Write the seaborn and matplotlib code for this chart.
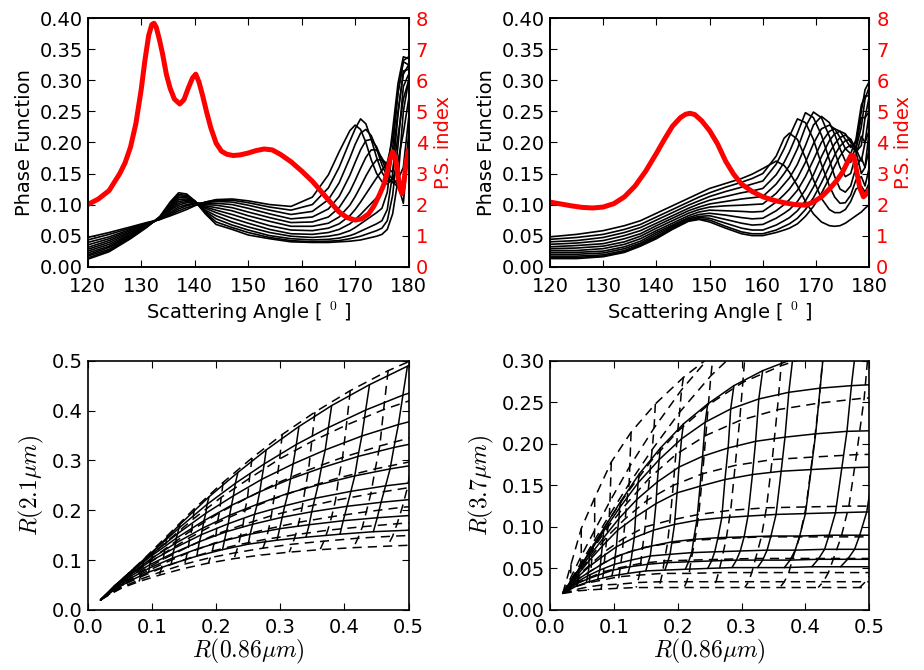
import numpy as np
import pandas as pd
import matplotlib
matplotlib.use("Agg")
import matplotlib.pyplot as plt
import seaborn as sns
from matplotlib.ticker import FormatStrFormatter

# ---------------- data: top-left panel ----------------
angles_left = [120, 124, 128, 131, 133.5, 135.5, 137, 138.5, 140, 142, 144, 147, 150, 154, 158,
               162, 165, 167, 169, 170, 171, 172, 173, 174, 175, 176, 177, 178, 179, 180]
# rows = angles, columns = 12 phase-function curves
pf_left = [
    [0.047, 0.043, 0.039, 0.035, 0.031, 0.028, 0.025, 0.022, 0.019, 0.017, 0.014, 0.012],
    [0.055, 0.052, 0.048, 0.045, 0.042, 0.039, 0.036, 0.033, 0.031, 0.028, 0.026, 0.024],
    [0.064, 0.062, 0.060, 0.058, 0.056, 0.054, 0.052, 0.051, 0.049, 0.048, 0.046, 0.045],
    [0.071, 0.070, 0.069, 0.068, 0.067, 0.066, 0.066, 0.065, 0.065, 0.064, 0.064, 0.063],
    [0.076, 0.076, 0.077, 0.077, 0.077, 0.078, 0.078, 0.079, 0.079, 0.080, 0.080, 0.081],
    [0.082, 0.084, 0.086, 0.088, 0.091, 0.093, 0.095, 0.097, 0.099, 0.101, 0.103, 0.105],
    [0.087, 0.090, 0.093, 0.096, 0.099, 0.102, 0.105, 0.108, 0.111, 0.114, 0.116, 0.119],
    [0.092, 0.095, 0.098, 0.100, 0.103, 0.105, 0.107, 0.109, 0.111, 0.113, 0.115, 0.117],
    [0.098, 0.099, 0.101, 0.102, 0.103, 0.104, 0.104, 0.105, 0.105, 0.106, 0.106, 0.106],
    [0.104, 0.104, 0.103, 0.102, 0.100, 0.098, 0.096, 0.094, 0.091, 0.089, 0.087, 0.085],
    [0.108, 0.107, 0.105, 0.102, 0.099, 0.095, 0.091, 0.087, 0.082, 0.077, 0.072, 0.068],
    [0.109, 0.107, 0.104, 0.100, 0.095, 0.090, 0.084, 0.078, 0.072, 0.067, 0.063, 0.060],
    [0.106, 0.103, 0.099, 0.094, 0.088, 0.082, 0.076, 0.070, 0.064, 0.059, 0.055, 0.051],
    [0.100, 0.096, 0.091, 0.085, 0.079, 0.073, 0.066, 0.060, 0.055, 0.050, 0.047, 0.045],
    [0.097, 0.091, 0.084, 0.077, 0.071, 0.065, 0.059, 0.053, 0.049, 0.045, 0.042, 0.040],
    [0.112, 0.100, 0.089, 0.080, 0.072, 0.065, 0.058, 0.052, 0.047, 0.043, 0.040, 0.039],
    [0.148, 0.127, 0.108, 0.093, 0.080, 0.070, 0.062, 0.055, 0.049, 0.044, 0.041, 0.039],
    [0.185, 0.160, 0.135, 0.113, 0.095, 0.080, 0.069, 0.060, 0.052, 0.046, 0.042, 0.040],
    [0.219, 0.202, 0.175, 0.147, 0.121, 0.099, 0.082, 0.069, 0.058, 0.050, 0.045, 0.041],
    [0.228, 0.222, 0.197, 0.168, 0.139, 0.113, 0.092, 0.076, 0.063, 0.053, 0.047, 0.042],
    [0.221, 0.238, 0.215, 0.188, 0.158, 0.129, 0.104, 0.084, 0.069, 0.057, 0.049, 0.043],
    [0.200, 0.230, 0.221, 0.203, 0.176, 0.146, 0.117, 0.093, 0.075, 0.061, 0.052, 0.045],
    [0.172, 0.205, 0.211, 0.205, 0.188, 0.161, 0.130, 0.102, 0.081, 0.065, 0.055, 0.047],
    [0.150, 0.176, 0.190, 0.193, 0.188, 0.172, 0.143, 0.111, 0.087, 0.069, 0.058, 0.049],
    [0.137, 0.152, 0.164, 0.172, 0.175, 0.172, 0.155, 0.122, 0.094, 0.074, 0.062, 0.052],
    [0.133, 0.138, 0.145, 0.152, 0.160, 0.166, 0.168, 0.150, 0.120, 0.092, 0.074, 0.060],
    [0.142, 0.137, 0.135, 0.140, 0.152, 0.175, 0.205, 0.220, 0.190, 0.150, 0.115, 0.085],
    [0.132, 0.128, 0.140, 0.170, 0.210, 0.250, 0.280, 0.295, 0.280, 0.245, 0.195, 0.140],
    [0.102, 0.115, 0.160, 0.215, 0.270, 0.310, 0.332, 0.338, 0.330, 0.315, 0.290, 0.250],
    [0.195, 0.215, 0.240, 0.270, 0.300, 0.325, 0.338, 0.335, 0.325, 0.318, 0.310, 0.300],
]
ps_left_angle = [120, 122, 124, 126, 127, 128, 129, 130, 130.7, 131.4, 132, 132.4, 132.8, 133.4,
                 134, 134.7, 135.4, 136.2, 137.2, 138, 138.8, 139.6, 140.2, 140.8, 141.5, 142.2,
                 143, 144, 145, 146, 147.2, 148.5, 150, 151.5, 153, 154.5, 156, 158, 160, 162,
                 164, 165.5, 167, 168.5, 170, 171.2, 172.5, 173.5, 174.5, 175.3, 176, 176.5,
                 177, 177.5, 178, 178.4, 178.75, 179.1, 179.5, 180]
ps_left = [2.00, 2.18, 2.45, 3.00, 3.35, 3.85, 4.60, 5.70, 6.65, 7.45, 7.80, 7.84, 7.72, 7.32,
           6.85, 6.20, 5.75, 5.40, 5.24, 5.38, 5.75, 6.08, 6.20, 5.95, 5.50, 5.00,
           4.48, 3.98, 3.72, 3.62, 3.58, 3.60, 3.66, 3.74, 3.79, 3.76, 3.62, 3.38, 3.08, 2.75,
           2.35, 2.05, 1.76, 1.58, 1.50, 1.54, 1.70, 1.95, 2.30, 2.62, 3.05, 3.45,
           3.70, 3.50, 2.95, 2.50, 2.35, 2.70, 3.35, 3.80]

# ---------------- data: top-right panel ----------------
angles_right = [120, 125, 130, 134, 137, 140, 143, 146, 148, 150, 153, 156, 158, 160, 162.5,
                164, 165, 166.5, 168, 169.5, 171, 172.5, 173.5, 174.5, 175.5, 176.5, 177.5,
                178.5, 179.2, 180]
pf_right = [
    [0.048, 0.044, 0.040, 0.036, 0.032, 0.029, 0.026, 0.023, 0.020, 0.017, 0.015, 0.013],
    [0.052, 0.047, 0.042, 0.038, 0.034, 0.030, 0.026, 0.023, 0.020, 0.017, 0.015, 0.013],
    [0.058, 0.052, 0.047, 0.042, 0.037, 0.033, 0.029, 0.025, 0.022, 0.019, 0.017, 0.016],
    [0.066, 0.060, 0.055, 0.050, 0.045, 0.040, 0.036, 0.032, 0.029, 0.026, 0.024, 0.023],
    [0.074, 0.068, 0.063, 0.058, 0.053, 0.049, 0.045, 0.041, 0.038, 0.036, 0.034, 0.033],
    [0.086, 0.080, 0.075, 0.070, 0.066, 0.062, 0.058, 0.055, 0.052, 0.049, 0.047, 0.045],
    [0.098, 0.092, 0.087, 0.082, 0.078, 0.074, 0.070, 0.067, 0.065, 0.063, 0.061, 0.060],
    [0.110, 0.104, 0.099, 0.094, 0.090, 0.086, 0.082, 0.079, 0.077, 0.075, 0.074, 0.073],
    [0.118, 0.112, 0.106, 0.101, 0.096, 0.092, 0.088, 0.084, 0.081, 0.079, 0.077, 0.076],
    [0.126, 0.119, 0.113, 0.107, 0.101, 0.096, 0.091, 0.086, 0.082, 0.078, 0.075, 0.072],
    [0.134, 0.128, 0.121, 0.113, 0.105, 0.098, 0.090, 0.083, 0.076, 0.070, 0.065, 0.062],
    [0.142, 0.136, 0.128, 0.119, 0.109, 0.099, 0.089, 0.079, 0.070, 0.062, 0.056, 0.053],
    [0.149, 0.142, 0.133, 0.122, 0.111, 0.100, 0.088, 0.077, 0.067, 0.059, 0.053, 0.050],
    [0.158, 0.150, 0.138, 0.126, 0.113, 0.101, 0.089, 0.078, 0.068, 0.059, 0.053, 0.050],
    [0.170, 0.178, 0.165, 0.148, 0.133, 0.118, 0.104, 0.090, 0.078, 0.067, 0.059, 0.055],
    [0.163, 0.207, 0.190, 0.168, 0.150, 0.133, 0.116, 0.100, 0.086, 0.074, 0.065, 0.059],
    [0.152, 0.215, 0.210, 0.185, 0.163, 0.143, 0.125, 0.108, 0.092, 0.079, 0.069, 0.062],
    [0.130, 0.205, 0.238, 0.215, 0.190, 0.165, 0.143, 0.123, 0.105, 0.090, 0.078, 0.069],
    [0.105, 0.175, 0.232, 0.248, 0.225, 0.195, 0.168, 0.145, 0.124, 0.106, 0.092, 0.081],
    [0.085, 0.140, 0.205, 0.240, 0.249, 0.228, 0.198, 0.172, 0.148, 0.128, 0.111, 0.097],
    [0.072, 0.110, 0.165, 0.212, 0.240, 0.242, 0.222, 0.200, 0.177, 0.155, 0.135, 0.118],
    [0.066, 0.092, 0.130, 0.172, 0.210, 0.232, 0.228, 0.218, 0.203, 0.183, 0.162, 0.143],
    [0.065, 0.087, 0.112, 0.145, 0.185, 0.213, 0.222, 0.222, 0.214, 0.198, 0.180, 0.162],
    [0.066, 0.087, 0.102, 0.125, 0.160, 0.190, 0.208, 0.218, 0.218, 0.208, 0.194, 0.178],
    [0.070, 0.092, 0.103, 0.120, 0.145, 0.170, 0.190, 0.205, 0.214, 0.212, 0.203, 0.190],
    [0.076, 0.105, 0.115, 0.130, 0.150, 0.168, 0.182, 0.192, 0.200, 0.205, 0.205, 0.196],
    [0.082, 0.125, 0.140, 0.160, 0.180, 0.195, 0.205, 0.200, 0.190, 0.185, 0.190, 0.185],
    [0.088, 0.130, 0.145, 0.175, 0.210, 0.240, 0.260, 0.250, 0.225, 0.195, 0.170, 0.150],
    [0.094, 0.120, 0.130, 0.160, 0.200, 0.240, 0.275, 0.285, 0.270, 0.240, 0.200, 0.160],
    [0.100, 0.135, 0.160, 0.190, 0.220, 0.250, 0.275, 0.298, 0.290, 0.275, 0.250, 0.220],
]
ps_right_angle = [120, 122, 124, 126, 128, 130, 132, 134, 136, 138, 140, 141.5, 143, 144.5,
                  145.5, 146.3, 147.2, 148.5, 150, 151.5, 153, 154.5, 156, 158, 160, 162, 164,
                  166, 168, 169.5, 171, 172.5, 174, 175, 176, 176.6, 177.1, 177.6, 178.2,
                  178.9, 179.5, 180]
ps_right = [2.08, 2.02, 1.96, 1.91, 1.89, 1.92, 2.03, 2.25, 2.60, 3.08, 3.65, 4.10, 4.52, 4.80,
            4.91, 4.94, 4.90, 4.70, 4.38, 3.95, 3.40, 2.98, 2.66, 2.42, 2.25, 2.14, 2.06,
            2.00, 1.98, 2.08, 2.25, 2.50, 2.80, 3.05, 3.40, 3.60, 3.55, 3.10, 2.55,
            2.25, 2.35, 2.50]

# ---------------- data: bottom-left LUT (R0.86 vs R2.1) ----------------
# rows = effective radius, columns = optical thickness
bl_solid_x = [
    [0.020, 0.042, 0.071, 0.104, 0.144, 0.189, 0.234, 0.278, 0.329, 0.380, 0.439, 0.498, 0.559],
    [0.020, 0.042, 0.070, 0.103, 0.142, 0.186, 0.230, 0.275, 0.325, 0.375, 0.433, 0.491, 0.552],
    [0.020, 0.042, 0.069, 0.102, 0.140, 0.184, 0.227, 0.271, 0.320, 0.370, 0.427, 0.484, 0.544],
    [0.020, 0.042, 0.068, 0.101, 0.138, 0.181, 0.224, 0.268, 0.316, 0.364, 0.421, 0.477, 0.537],
    [0.020, 0.041, 0.068, 0.100, 0.137, 0.179, 0.221, 0.264, 0.312, 0.359, 0.416, 0.471, 0.529],
    [0.020, 0.041, 0.067, 0.098, 0.135, 0.177, 0.219, 0.260, 0.307, 0.354, 0.410, 0.464, 0.522],
    [0.020, 0.041, 0.066, 0.097, 0.133, 0.174, 0.216, 0.257, 0.303, 0.349, 0.404, 0.457, 0.514],
    [0.020, 0.040, 0.066, 0.096, 0.132, 0.172, 0.213, 0.253, 0.299, 0.345, 0.398, 0.451, 0.507],
    [0.020, 0.040, 0.065, 0.095, 0.130, 0.170, 0.210, 0.250, 0.295, 0.340, 0.393, 0.445, 0.500],
]
bl_solid_y = [
    [0.020, 0.047, 0.081, 0.120, 0.172, 0.227, 0.276, 0.321, 0.368, 0.410, 0.452, 0.489, 0.519],
    [0.020, 0.048, 0.081, 0.119, 0.164, 0.212, 0.254, 0.293, 0.332, 0.366, 0.401, 0.431, 0.456],
    [0.020, 0.048, 0.079, 0.114, 0.153, 0.194, 0.229, 0.262, 0.293, 0.321, 0.349, 0.372, 0.392],
    [0.020, 0.049, 0.077, 0.110, 0.144, 0.179, 0.210, 0.237, 0.263, 0.285, 0.308, 0.326, 0.342],
    [0.020, 0.046, 0.074, 0.104, 0.134, 0.164, 0.190, 0.212, 0.234, 0.251, 0.269, 0.283, 0.295],
    [0.020, 0.046, 0.071, 0.098, 0.124, 0.151, 0.173, 0.192, 0.209, 0.224, 0.238, 0.249, 0.258],
    [0.020, 0.044, 0.067, 0.091, 0.114, 0.137, 0.157, 0.172, 0.186, 0.197, 0.208, 0.216, 0.223],
    [0.020, 0.041, 0.063, 0.084, 0.104, 0.123, 0.139, 0.152, 0.163, 0.171, 0.179, 0.185, 0.190],
    [0.020, 0.039, 0.058, 0.076, 0.092, 0.108, 0.121, 0.132, 0.140, 0.146, 0.152, 0.157, 0.160],
]
bl_dash_x = [
    [0.020, 0.035, 0.058, 0.088, 0.124, 0.166, 0.211, 0.256, 0.303, 0.354, 0.409, 0.468, 0.528, 0.590],
    [0.020, 0.035, 0.057, 0.087, 0.122, 0.164, 0.208, 0.252, 0.299, 0.349, 0.403, 0.461, 0.520, 0.581],
    [0.020, 0.035, 0.057, 0.086, 0.121, 0.162, 0.205, 0.249, 0.294, 0.344, 0.397, 0.455, 0.513, 0.573],
    [0.020, 0.034, 0.056, 0.085, 0.119, 0.159, 0.202, 0.245, 0.290, 0.339, 0.391, 0.448, 0.505, 0.564],
    [0.020, 0.034, 0.056, 0.084, 0.118, 0.157, 0.200, 0.242, 0.286, 0.334, 0.386, 0.441, 0.498, 0.556],
    [0.020, 0.034, 0.055, 0.083, 0.116, 0.155, 0.197, 0.238, 0.282, 0.329, 0.380, 0.434, 0.490, 0.547],
    [0.020, 0.034, 0.055, 0.082, 0.115, 0.153, 0.194, 0.235, 0.278, 0.324, 0.374, 0.428, 0.482, 0.539],
    [0.020, 0.033, 0.054, 0.081, 0.113, 0.151, 0.191, 0.231, 0.273, 0.319, 0.368, 0.421, 0.475, 0.530],
    [0.020, 0.033, 0.053, 0.080, 0.112, 0.149, 0.188, 0.228, 0.269, 0.314, 0.362, 0.414, 0.467, 0.522],
]
bl_dash_y = [
    [0.020, 0.038, 0.067, 0.103, 0.149, 0.203, 0.256, 0.305, 0.352, 0.397, 0.440, 0.480, 0.514, 0.546],
    [0.020, 0.039, 0.065, 0.098, 0.136, 0.182, 0.226, 0.264, 0.303, 0.338, 0.371, 0.402, 0.428, 0.451],
    [0.020, 0.038, 0.062, 0.090, 0.123, 0.160, 0.195, 0.225, 0.254, 0.281, 0.306, 0.329, 0.349, 0.366],
    [0.020, 0.036, 0.060, 0.085, 0.114, 0.145, 0.175, 0.200, 0.223, 0.245, 0.265, 0.283, 0.298, 0.311],
    [0.020, 0.035, 0.056, 0.078, 0.102, 0.127, 0.152, 0.171, 0.189, 0.205, 0.220, 0.233, 0.245, 0.253],
    [0.020, 0.034, 0.053, 0.072, 0.092, 0.114, 0.134, 0.149, 0.163, 0.176, 0.187, 0.197, 0.206, 0.212],
    [0.020, 0.032, 0.050, 0.066, 0.084, 0.102, 0.118, 0.131, 0.142, 0.151, 0.160, 0.167, 0.173, 0.178],
    [0.020, 0.031, 0.046, 0.061, 0.076, 0.092, 0.105, 0.115, 0.124, 0.132, 0.138, 0.144, 0.148, 0.151],
    [0.020, 0.030, 0.044, 0.057, 0.070, 0.083, 0.094, 0.103, 0.110, 0.116, 0.121, 0.125, 0.128, 0.131],
]

# ---------------- data: bottom-right LUT (R0.86 vs R3.7) ----------------
br_solid_x = [
    [0.020, 0.032, 0.046, 0.064, 0.085, 0.111, 0.140, 0.173, 0.209, 0.247, 0.288, 0.333, 0.380, 0.429, 0.480, 0.533, 0.586],
    [0.020, 0.032, 0.046, 0.063, 0.084, 0.109, 0.138, 0.171, 0.206, 0.243, 0.283, 0.327, 0.374, 0.423, 0.472, 0.525, 0.577],
    [0.020, 0.031, 0.045, 0.062, 0.083, 0.108, 0.136, 0.168, 0.202, 0.239, 0.279, 0.322, 0.368, 0.416, 0.465, 0.516, 0.567],
    [0.020, 0.031, 0.045, 0.061, 0.082, 0.106, 0.134, 0.166, 0.199, 0.235, 0.274, 0.317, 0.362, 0.409, 0.457, 0.507, 0.558],
    [0.020, 0.031, 0.044, 0.061, 0.080, 0.104, 0.132, 0.162, 0.195, 0.230, 0.269, 0.310, 0.354, 0.400, 0.447, 0.496, 0.546],
    [0.020, 0.031, 0.044, 0.060, 0.079, 0.102, 0.129, 0.159, 0.191, 0.225, 0.263, 0.304, 0.346, 0.391, 0.437, 0.485, 0.534],
    [0.020, 0.031, 0.043, 0.059, 0.078, 0.101, 0.127, 0.157, 0.188, 0.222, 0.258, 0.298, 0.340, 0.384, 0.430, 0.477, 0.524],
    [0.020, 0.030, 0.043, 0.058, 0.076, 0.099, 0.125, 0.153, 0.184, 0.217, 0.253, 0.292, 0.333, 0.376, 0.420, 0.466, 0.512],
    [0.020, 0.030, 0.042, 0.057, 0.075, 0.097, 0.122, 0.150, 0.180, 0.212, 0.247, 0.285, 0.325, 0.367, 0.410, 0.455, 0.500],
]
br_solid_y = [
    [0.020, 0.034, 0.050, 0.073, 0.099, 0.131, 0.164, 0.195, 0.224, 0.248, 0.270, 0.288, 0.302, 0.314, 0.322, 0.328, 0.332],
    [0.020, 0.034, 0.050, 0.070, 0.095, 0.123, 0.153, 0.181, 0.206, 0.226, 0.242, 0.254, 0.262, 0.267, 0.270, 0.272, 0.273],
    [0.020, 0.032, 0.047, 0.065, 0.086, 0.110, 0.133, 0.154, 0.172, 0.185, 0.195, 0.203, 0.208, 0.212, 0.215, 0.216, 0.217],
    [0.020, 0.031, 0.044, 0.059, 0.077, 0.096, 0.112, 0.128, 0.141, 0.149, 0.157, 0.163, 0.167, 0.169, 0.171, 0.172, 0.173],
    [0.020, 0.029, 0.040, 0.052, 0.063, 0.076, 0.087, 0.096, 0.103, 0.108, 0.111, 0.113, 0.115, 0.116, 0.117, 0.118, 0.118],
    [0.020, 0.028, 0.037, 0.045, 0.054, 0.064, 0.071, 0.077, 0.082, 0.085, 0.087, 0.088, 0.089, 0.089, 0.090, 0.090, 0.090],
    [0.020, 0.027, 0.034, 0.041, 0.048, 0.055, 0.060, 0.065, 0.067, 0.069, 0.070, 0.071, 0.072, 0.072, 0.073, 0.073, 0.073],
    [0.020, 0.025, 0.032, 0.037, 0.042, 0.048, 0.052, 0.055, 0.057, 0.058, 0.059, 0.060, 0.060, 0.060, 0.061, 0.061, 0.061],
    [0.020, 0.024, 0.029, 0.033, 0.037, 0.041, 0.044, 0.047, 0.048, 0.049, 0.050, 0.051, 0.051, 0.051, 0.052, 0.052, 0.052],
]
br_dash_x = [
    [0.020, 0.033, 0.049, 0.070, 0.096, 0.127, 0.165, 0.209, 0.259, 0.316, 0.379, 0.448, 0.524, 0.606, 0.688],
    [0.020, 0.032, 0.049, 0.070, 0.094, 0.125, 0.163, 0.206, 0.256, 0.311, 0.373, 0.442, 0.516, 0.597, 0.677],
    [0.020, 0.032, 0.048, 0.069, 0.093, 0.124, 0.160, 0.203, 0.252, 0.307, 0.368, 0.435, 0.508, 0.587, 0.667],
    [0.020, 0.032, 0.048, 0.068, 0.092, 0.122, 0.158, 0.200, 0.248, 0.302, 0.362, 0.428, 0.500, 0.578, 0.656],
    [0.020, 0.032, 0.047, 0.067, 0.091, 0.120, 0.156, 0.197, 0.244, 0.297, 0.356, 0.421, 0.492, 0.569, 0.645],
    [0.020, 0.032, 0.046, 0.066, 0.089, 0.118, 0.152, 0.193, 0.239, 0.290, 0.348, 0.411, 0.480, 0.555, 0.630],
    [0.020, 0.031, 0.046, 0.065, 0.087, 0.115, 0.149, 0.188, 0.233, 0.283, 0.339, 0.401, 0.468, 0.541, 0.614],
    [0.020, 0.031, 0.045, 0.064, 0.085, 0.113, 0.145, 0.184, 0.227, 0.276, 0.331, 0.391, 0.456, 0.527, 0.598],
    [0.020, 0.031, 0.044, 0.062, 0.084, 0.110, 0.142, 0.179, 0.221, 0.269, 0.322, 0.380, 0.444, 0.513, 0.582],
    [0.020, 0.030, 0.044, 0.062, 0.082, 0.108, 0.140, 0.176, 0.218, 0.264, 0.316, 0.374, 0.436, 0.504, 0.571],
    [0.020, 0.030, 0.043, 0.061, 0.081, 0.107, 0.137, 0.173, 0.214, 0.260, 0.311, 0.367, 0.428, 0.494, 0.561],
    [0.020, 0.030, 0.043, 0.060, 0.080, 0.105, 0.135, 0.170, 0.210, 0.255, 0.305, 0.360, 0.420, 0.485, 0.550],
]
br_dash_y = [
    [0.020, 0.055, 0.098, 0.135, 0.178, 0.214, 0.248, 0.280, 0.310, 0.335, 0.355, 0.370, 0.380, 0.390, 0.395],
    [0.020, 0.038, 0.065, 0.096, 0.131, 0.173, 0.219, 0.265, 0.310, 0.353, 0.394, 0.431, 0.459, 0.479, 0.492],
    [0.020, 0.035, 0.056, 0.083, 0.114, 0.152, 0.193, 0.238, 0.282, 0.322, 0.356, 0.386, 0.410, 0.427, 0.439],
    [0.020, 0.034, 0.054, 0.078, 0.108, 0.142, 0.179, 0.215, 0.247, 0.274, 0.294, 0.311, 0.325, 0.332, 0.337],
    [0.020, 0.034, 0.051, 0.073, 0.100, 0.128, 0.159, 0.187, 0.210, 0.228, 0.241, 0.249, 0.255, 0.257, 0.259],
    [0.020, 0.032, 0.047, 0.066, 0.088, 0.110, 0.132, 0.150, 0.164, 0.174, 0.181, 0.184, 0.187, 0.188, 0.188],
    [0.020, 0.030, 0.043, 0.056, 0.071, 0.086, 0.100, 0.108, 0.115, 0.120, 0.123, 0.124, 0.125, 0.125, 0.125],
    [0.020, 0.028, 0.038, 0.047, 0.057, 0.067, 0.075, 0.080, 0.084, 0.086, 0.088, 0.088, 0.088, 0.088, 0.088],
    [0.020, 0.026, 0.033, 0.039, 0.046, 0.051, 0.056, 0.059, 0.060, 0.061, 0.062, 0.062, 0.062, 0.062, 0.062],
    [0.020, 0.024, 0.029, 0.033, 0.036, 0.040, 0.042, 0.044, 0.044, 0.045, 0.045, 0.045, 0.045, 0.045, 0.045],
    [0.020, 0.022, 0.025, 0.028, 0.030, 0.031, 0.033, 0.034, 0.034, 0.034, 0.034, 0.034, 0.034, 0.034, 0.034],
    [0.020, 0.021, 0.023, 0.024, 0.025, 0.026, 0.027, 0.027, 0.027, 0.027, 0.027, 0.027, 0.027, 0.027, 0.027],
]

pf_yticks = [0.00, 0.05, 0.10, 0.15, 0.20, 0.25, 0.30, 0.35, 0.40]
ps_yticks = [0, 1, 2, 3, 4, 5, 6, 7, 8]
angle_ticks = [120, 130, 140, 150, 160, 170, 180]
refl_ticks = [0.0, 0.1, 0.2, 0.3, 0.4, 0.5]
r37_ticks = [0.00, 0.05, 0.10, 0.15, 0.20, 0.25, 0.30]

# ---------------- style ----------------
sns.set_theme(style="ticks")
plt.rcParams.update({
    "font.family": ["DejaVu Sans"],
    "font.size": 14, "axes.labelsize": 14,
    "xtick.labelsize": 14, "ytick.labelsize": 14,
    "xtick.direction": "in", "ytick.direction": "in",
    "xtick.top": True, "ytick.right": True,
    "xtick.major.size": 5, "ytick.major.size": 5,
    "xtick.major.width": 0.8, "ytick.major.width": 0.8,
    "xtick.major.pad": 6, "ytick.major.pad": 3.5,
    "axes.linewidth": 1.2, "axes.edgecolor": "black",
    "xtick.color": "black", "ytick.color": "black",
    "axes.labelcolor": "black", "text.color": "black",
    "mathtext.fontset": "cm",
})

fig = plt.figure(figsize=(9.24, 6.70), dpi=100)
ax_tl = fig.add_axes([0.0949, 0.602, 0.3474, 0.3707])
ax_tr = fig.add_axes([0.5952, 0.602, 0.3456, 0.3707])
ax_bl = fig.add_axes([0.0949, 0.0896, 0.3474, 0.372])
ax_br = fig.add_axes([0.5952, 0.0896, 0.3456, 0.372])


def draw_phase(ax, angles, table, ps_angle, ps_vals):
    arr = np.array(table)
    rows = []
    for k in range(arr.shape[1]):
        for a, v in zip(angles, arr[:, k]):
            rows.append((a, v, k))
    df = pd.DataFrame(rows, columns=["angle", "pf", "curve"])
    sns.lineplot(data=df, x="angle", y="pf", units="curve", estimator=None,
                 sort=False, color="black", lw=1.2, ax=ax, legend=False,
                 solid_joinstyle="round")
    ax.set_xlim(120, 180)
    ax.set_ylim(0, 0.4)
    ax.set_xticks(angle_ticks)
    ax.set_yticks(pf_yticks)
    ax.yaxis.set_major_formatter(FormatStrFormatter("%.2f"))
    ax.tick_params(axis="x", pad=7.2)
    ax.set_xlabel("Scattering Angle [ $^0$ ]", labelpad=3)
    ax.set_ylabel("Phase Function")
    ax2 = ax.twinx()
    sns.lineplot(x=ps_angle, y=ps_vals, estimator=None, sort=False,
                 color="red", lw=3.6, ax=ax2, legend=False,
                 solid_joinstyle="round", solid_capstyle="butt")
    ax2.set_ylim(0, 8)
    ax2.set_yticks(ps_yticks)
    ax2.tick_params(axis="y", labelcolor="red", direction="in", length=5,
                    width=0.8, pad=5)
    ax2.set_ylabel("P.S. index", color="red")
    for s in ax2.spines.values():
        s.set_linewidth(1.2)
        s.set_color("black")


def draw_lut(ax, X, Y, ls):
    X = np.array(X)
    Y = np.array(Y)
    rows = []
    for i in range(X.shape[0]):
        for j in range(X.shape[1]):
            rows.append((X[i, j], Y[i, j], "re%d" % i))
    for j in range(1, X.shape[1]):
        for i in range(X.shape[0]):
            rows.append((X[i, j], Y[i, j], "tau%d" % j))
    df = pd.DataFrame(rows, columns=["x", "y", "line"])
    sns.lineplot(data=df, x="x", y="y", units="line", estimator=None, sort=False,
                 color="black", lw=1.1, linestyle=ls, ax=ax, legend=False)


draw_phase(ax_tl, angles_left, pf_left, ps_left_angle, ps_left)
draw_phase(ax_tr, angles_right, pf_right, ps_right_angle, ps_right)

dash = (0, (6, 4))
draw_lut(ax_bl, bl_solid_x, bl_solid_y, "-")
draw_lut(ax_bl, bl_dash_x, bl_dash_y, dash)
draw_lut(ax_br, br_solid_x, br_solid_y, "-")
draw_lut(ax_br, br_dash_x, br_dash_y, dash)

for ax in (ax_bl, ax_br):
    ax.set_xlim(0, 0.5)
    ax.set_xticks(refl_ticks)
    ax.xaxis.set_major_formatter(FormatStrFormatter("%.1f"))
    ax.set_xlabel(r"$R(0.86\mu m)$", fontsize=17, labelpad=0)
ax_bl.set_ylim(0, 0.5)
ax_bl.set_yticks(refl_ticks)
ax_bl.yaxis.set_major_formatter(FormatStrFormatter("%.1f"))
ax_bl.set_ylabel(r"$R(2.1\mu m)$", fontsize=17)
ax_br.set_ylim(0, 0.3)
ax_br.set_yticks(r37_ticks)
ax_br.yaxis.set_major_formatter(FormatStrFormatter("%.2f"))
ax_br.set_ylabel(r"$R(3.7\mu m)$", fontsize=17)

for ax in (ax_tl, ax_tr, ax_bl, ax_br):
    for s in ax.spines.values():
        s.set_visible(True)
        s.set_linewidth(1.2)
        s.set_color("black")

fig.savefig("out.png", dpi=100, facecolor="white")
